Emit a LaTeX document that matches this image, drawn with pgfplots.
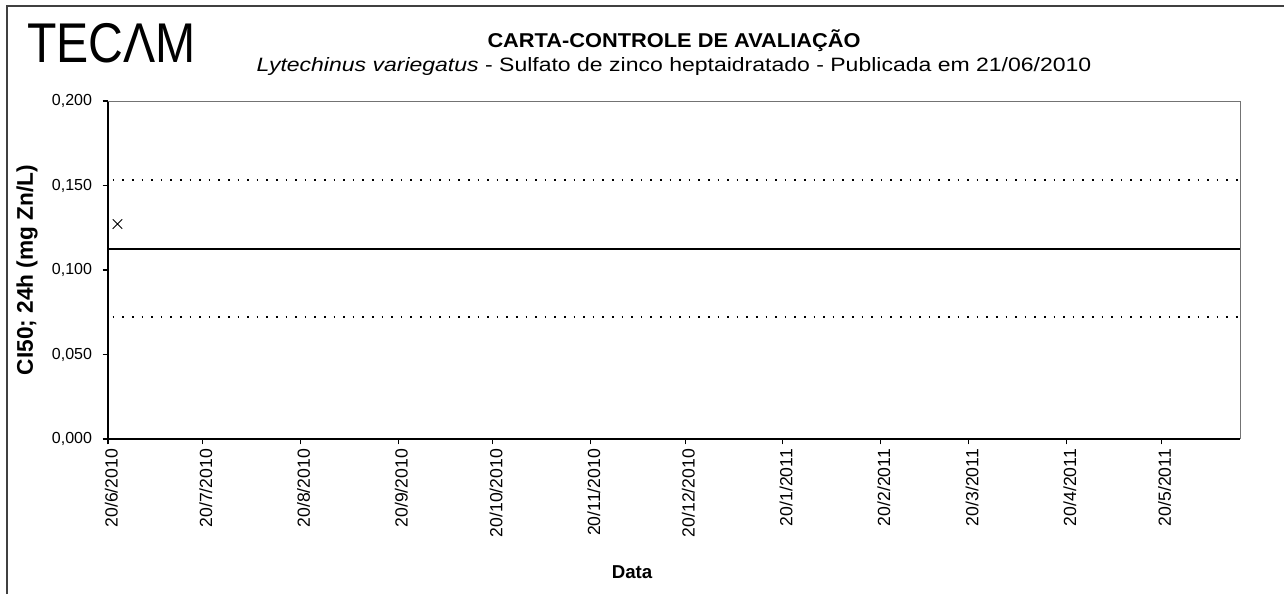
\documentclass[border=0pt]{standalone}
\usepackage{fontspec}
\setmainfont{Liberation Sans}
\usepackage{pgfplots}
\pgfplotsset{compat=1.18}
\begin{document}
\begin{tikzpicture}
\useasboundingbox (0pt,0pt) rectangle (963pt,-445.5pt);
\draw[line width=0.8pt, black!75] (5.25pt,-445.5pt) -- (5.25pt,-4.5pt) -- (963pt,-4.5pt);
\node[anchor=base west, inner sep=0pt, font=\fontsize{42}{42}\selectfont, xscale=0.86] at (20.25pt,-46.5pt) {TECΛM};
\begin{axis}[
  at={(81pt,-329.25pt)}, anchor=south west,
  scale only axis, width=849pt, height=253.5pt,
  xmin=0, xmax=359, ymin=0, ymax=0.2,
  axis x line*=bottom, axis y line*=left,
  axis line style={black, line width=0.8pt, -},
  xtick={0,30,61,92,122,153,183,214,245,273,304,334},
  xticklabels={20/6/2010,20/7/2010,20/8/2010,20/9/2010,20/10/2010,20/11/2010,20/12/2010,20/1/2011,20/2/2011,20/3/2011,20/4/2011,20/5/2011},
  x tick label style={rotate=90, anchor=east, yshift=-2.5pt, font=\fontsize{13.2}{15}\selectfont},
  ytick={0,0.05,0.1,0.15,0.2},
  scaled y ticks=false,
  yticklabel style={xshift=-4.5pt, font=\fontsize{12}{14}\selectfont, /pgf/number format/.cd, fixed, fixed zerofill, precision=3, use comma, assume math mode=true},
  tick align=outside, major tick length=4pt, tick style={black, line width=0.8pt},
  title={\scalebox{1.09}[1]{\textbf{\fontsize{15}{18.75}\selectfont CARTA-CONTROLE DE AVALIAÇÃO}}\\\scalebox{1.19}[1]{\textit{Lytechinus variegatus} -  Sulfato de zinco heptaidratado - Publicada em 21/06/2010}},
  title style={align=center, font=\fontsize{14.5}{17.5}\selectfont, at={(axis description cs:0.5,1.12)}, anchor=center},
  xlabel={\textbf{Data}},
  xlabel style={at={(axis description cs:0.463,-0.3935)}, anchor=center, font=\fontsize{14}{16}\selectfont},
  ylabel={\textbf{CI50; 24h (mg Zn/L)}},
  ylabel style={at={(axis description cs:-0.0716,0.5)}, anchor=center, font=\fontsize{17}{19}\selectfont},
  clip=false,
]
\addplot[black, line width=1.2pt] coordinates {(0,0.1124) (359,0.1124)};
\addplot[black, line width=1.3pt, dash pattern=on 1.3pt off 5.9pt] coordinates {(1.5,0.1533) (359,0.1533)};
\addplot[black, line width=1.3pt, dash pattern=on 1.3pt off 5.9pt] coordinates {(1.5,0.0721) (359,0.0721)};
\addplot[only marks, mark=x, mark size=5pt, black, line width=0.7pt] coordinates {(3,0.1272)};
\draw[black!55, line width=0.6pt] (rel axis cs:0,1) -- (rel axis cs:1,1) -- (rel axis cs:1,0);
\end{axis}
\end{tikzpicture}
\end{document}
